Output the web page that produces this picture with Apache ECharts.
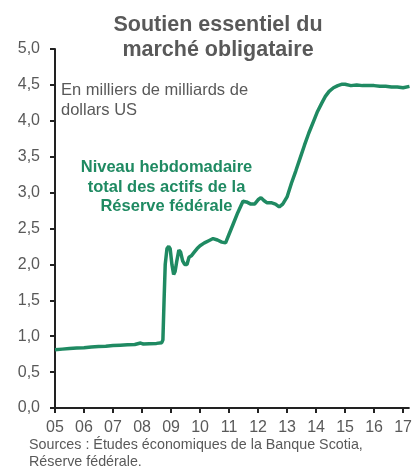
<!DOCTYPE html>
<html>
<head>
<meta charset="utf-8">
<script src="https://cdn.jsdelivr.net/npm/echarts@6/dist/echarts.min.js"></script>
<style>
  html, body { margin: 0; padding: 0; background: #fff; }
  #chart { width: 415px; height: 466px; }
</style>
</head>
<body>
<div id="chart"></div>
<script>
// années (fractions) et actifs totaux de la Fed, en milliers de milliards $ US
let years = [
  2005.0, 2005.25, 2005.5, 2005.75, 2006.0, 2006.25, 2006.5, 2006.75, 2007.0, 2007.25,
  2007.5, 2007.75, 2007.95, 2008.05, 2008.25, 2008.5, 2008.68, 2008.72, 2008.76, 2008.8,
  2008.86, 2008.92, 2008.97, 2009.03, 2009.09, 2009.14, 2009.2, 2009.27, 2009.33, 2009.4,
  2009.47, 2009.55, 2009.62, 2009.7, 2009.8, 2009.9, 2010.0, 2010.15, 2010.3, 2010.45,
  2010.6, 2010.75, 2010.88, 2011.0, 2011.15, 2011.3, 2011.48, 2011.6, 2011.75, 2011.88,
  2012.0, 2012.1, 2012.2, 2012.3, 2012.45, 2012.6, 2012.73, 2012.85, 2013.0, 2013.15,
  2013.3, 2013.45, 2013.6, 2013.75, 2013.93, 2014.05, 2014.2, 2014.32, 2014.45, 2014.6,
  2014.75, 2014.9, 2015.0, 2015.2, 2015.4, 2015.6, 2015.8, 2016.0, 2016.2, 2016.4,
  2016.6, 2016.8, 2017.0, 2017.22
];
let assets = [
  0.81, 0.82, 0.83, 0.835, 0.84, 0.85, 0.855, 0.86, 0.87, 0.875,
  0.88, 0.885, 0.905, 0.89, 0.895, 0.9, 0.91, 0.95, 1.5, 2.0,
  2.22, 2.25, 2.22, 2.0, 1.86, 1.9, 2.05, 2.2, 2.17, 2.05,
  2.0, 2.0, 2.1, 2.12, 2.17, 2.22, 2.26, 2.3, 2.33, 2.36,
  2.34, 2.31, 2.3, 2.42, 2.57, 2.72, 2.88, 2.87, 2.84, 2.84,
  2.9, 2.93, 2.89, 2.86, 2.86, 2.84, 2.8, 2.84, 2.94, 3.13,
  3.3, 3.48, 3.66, 3.83, 4.01, 4.13, 4.25, 4.34, 4.41, 4.46,
  4.49, 4.51, 4.51, 4.49, 4.5, 4.49, 4.49, 4.49, 4.48, 4.48,
  4.47, 4.47, 4.46, 4.48
];
let xTicks = [2005, 2006, 2007, 2008, 2009, 2010, 2011, 2012, 2013, 2014, 2015, 2016, 2017];

let grey = '#595959';
let green = '#1f8a62';
let font = 'Liberation Sans, Arial, sans-serif';

let chart = echarts.init(document.getElementById('chart'));
chart.setOption({
  animation: false,
  grid: { left: 55, right: 2, top: 49, bottom: 58 },
  xAxis: {
    type: 'value',
    min: 2005,
    max: 2017.2,
    splitLine: { show: false },
    axisLine: { lineStyle: { color: '#222', width: 2 } },
    axisTick: { show: true, length: 5, lineStyle: { color: '#222', width: 2 }, customValues: xTicks },
    axisLabel: {
      customValues: xTicks,
      color: grey, fontSize: 16, fontFamily: font, margin: 12,
      formatter: function (v) { return String(Math.round(v)).slice(2); }
    }
  },
  yAxis: {
    type: 'value',
    min: 0, max: 5, interval: 0.5,
    splitLine: { show: false },
    axisLine: { show: true, lineStyle: { color: '#222', width: 2 } },
    axisTick: { show: true, length: 5, lineStyle: { color: '#222', width: 2 } },
    axisLabel: {
      color: grey, fontSize: 16, fontFamily: font, margin: 15,
      formatter: function (v) { return v.toFixed(1).replace('.', ','); }
    }
  },
  series: [{
    type: 'line',
    data: years.map(function (y, i) { return [y, assets[i]]; }),
    showSymbol: false,
    lineStyle: { color: green, width: 3.5 }
  }],
  graphic: [
    { type: 'text', x: 218, y: 13, style: { text: 'Soutien essentiel du\nmarché obligataire', align: 'center',
      font: 'bold 21.5px ' + font, fill: grey, lineHeight: 25 } },
    { type: 'text', x: 61, y: 81, style: { text: 'En milliers de milliards de\ndollars US',
      font: '16.5px ' + font, fill: grey, lineHeight: 19.5 } },
    { type: 'text', x: 166.5, y: 158, style: { text: 'Niveau hebdomadaire\ntotal des actifs de la\nRéserve fédérale', align: 'center',
      font: 'bold 16.5px ' + font, fill: green, lineHeight: 19.5 } },
    { type: 'text', x: 29, y: 437, style: { text: 'Sources : Études économiques de la Banque Scotia,\nRéserve fédérale.',
      font: '14.3px ' + font, fill: grey, lineHeight: 16.5 } }
  ]
});
</script>
</body>
</html>
